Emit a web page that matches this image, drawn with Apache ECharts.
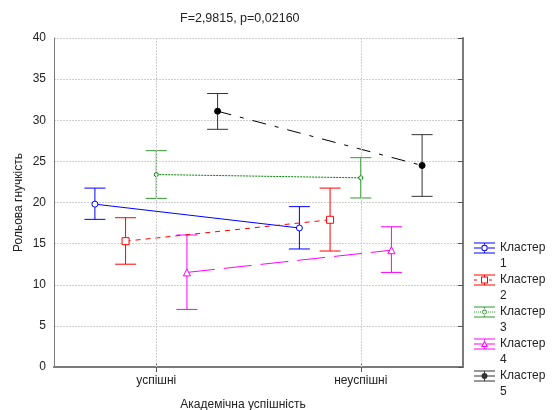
<!DOCTYPE html>
<html>
<head>
<meta charset="utf-8">
<script src="https://cdn.jsdelivr.net/npm/echarts@6/dist/echarts.min.js"></script>
<style>html,body{margin:0;padding:0;background:#fff}#c{width:552px;height:410px}</style>
</head>
<body>
<div id="c"></div>
<script>
// ---- data ----
const categories = ['успішні', 'неуспішні'];
const clusterNames = ['Кластер 1', 'Кластер 2', 'Кластер 3', 'Кластер 4', 'Кластер 5'];
const clusterOffsets = [-0.3, -0.15, 0, 0.15, 0.3];
const means1 = [19.8, 16.9];
const means2 = [15.3, 17.9];
const means3 = [23.4, 23.0];
const means4 = [11.5, 14.2];
const means5 = [31.1, 24.5];
const low1 = [17.95, 14.35];
const low2 = [12.5, 14.1];
const low3 = [20.5, 20.55];
const low4 = [7.0, 11.5];
const low5 = [28.9, 20.75];
const high1 = [21.75, 19.5];
const high2 = [18.15, 21.75];
const high3 = [26.3, 25.45];
const high4 = [16.05, 17.05];
const high5 = [33.25, 28.25];
const yTicks = [0, 5, 10, 15, 20, 25, 30, 35, 40];
const titleText = 'F=2,9815, p=0,02160';
const xName = 'Академічна успішність';
const yName = 'Рольова гнучкість';

const means = [means1, means2, means3, means4, means5];
const lows = [low1, low2, low3, low4, low5];
const highs = [high1, high2, high3, high4, high5];

// ---- styles ----
const lineColors = ['#0000ff', '#ff0000', '#008000', '#ff00ff', '#000000'];
const barColors = ['#0000ff', '#ff0000', '#2e9a2e', '#ff00ff', '#333333'];
const lineTypes = ['solid', [5, 5], [2, 1], [28, 9], [14, 9, 4, 9]];
const symbols = ['circle', 'rect', 'circle', 'triangle', 'circle'];
const symbolSizes = [6, 7, 4, 7, 6];
const symbolFill = ['#fff', '#fff', '#fff', '#fff', '#000'];

function rect(x0, y0, x1, y1) {
  return 'M' + x0 + ' ' + y0 + 'L' + x1 + ' ' + y0 + 'L' + x1 + ' ' + y1 + 'L' + x0 + ' ' + y1 + 'Z';
}
function ring(cx, cy, r1, r2) {
  return 'M' + (cx + r1) + ' ' + cy + 'A' + r1 + ' ' + r1 + ' 0 1 1 ' + (cx - r1) + ' ' + cy +
    'A' + r1 + ' ' + r1 + ' 0 1 1 ' + (cx + r1) + ' ' + cy + 'Z' +
    'M' + (cx + r2) + ' ' + cy + 'A' + r2 + ' ' + r2 + ' 0 1 0 ' + (cx - r2) + ' ' + cy +
    'A' + r2 + ' ' + r2 + ' 0 1 0 ' + (cx + r2) + ' ' + cy + 'Z';
}
function legendIcon(i) {
  let p = rect(0, 0, 21, 1) + rect(0, 10, 21, 11);
  if (i === 1) { p += rect(0, 5, 3, 6) + rect(15, 5, 18, 6); }
  else if (i === 2) { p += rect(0, 5, 1, 6) + rect(2, 5, 3, 6) + rect(4, 5, 5, 6) + rect(6, 5, 7, 6) + rect(14, 5, 15, 6) + rect(16, 5, 17, 6) + rect(18, 5, 19, 6) + rect(20, 5, 21, 6); }
  else { p += rect(0, 5, 7, 6) + rect(14, 5, 21, 6); }
  p += rect(10, 0, 11, 2) + rect(10, 9, 11, 11);
  if (i === 0) p += ring(10.5, 5.5, 3.2, 2.2);
  else if (i === 1) p += rect(7, 2, 14, 9) + 'M8 3L8 8L13 8L13 3Z';
  else if (i === 2) p += ring(10.5, 5.5, 2.4, 1.5);
  else if (i === 3) p += 'M10.5 2L14 8.5L7 8.5Z' + 'M10.5 4L8.7 7.5L12.3 7.5Z' + rect(7, 5, 8.5, 6) + rect(12.5, 5, 14, 6);
  else p += 'M13.5 5.5A3 3 0 1 1 7.5 5.5A3 3 0 1 1 13.5 5.5Z' + rect(7, 5, 14, 6) + rect(10, 2, 11, 9);
  return 'path://' + p;
}

function errRender(color) {
  return function (params, api) {
    const x = api.value(0), lo = api.value(1), hi = api.value(2);
    const a = api.coord([x, lo]);
    const b = api.coord([x, hi]);
    const hw = 10.5;
    const st = { stroke: color, lineWidth: 1 };
    return {
      type: 'group',
      children: [
        { type: 'line', shape: { x1: a[0], y1: a[1], x2: b[0], y2: b[1] }, style: st },
        { type: 'line', shape: { x1: a[0] - hw, y1: a[1], x2: a[0] + hw, y2: a[1] }, style: st },
        { type: 'line', shape: { x1: b[0] - hw, y1: b[1], x2: b[0] + hw, y2: b[1] }, style: st }
      ]
    };
  };
}

const series = [];
series.push({
  type: 'line', data: [], z: 1, silent: true,
  markLine: {
    silent: true, symbol: 'none', label: { show: false },
    lineStyle: { color: '#cfcfcf', type: [2, 1], width: 1 },
    data: categories.map((c, j) => ({ xAxis: j + 1 }))
  }
});
for (let i = 0; i < 5; i++) {
  const xs = categories.map((c, j) => j + 1 + clusterOffsets[i]);
  series.push({
    type: 'custom', name: clusterNames[i] + ' err', z: 3,
    renderItem: errRender(barColors[i]),
    encode: { x: 0, y: [1, 2] },
    data: xs.map((x, j) => [x, lows[i][j], highs[i][j]]),
    silent: true
  });
  series.push({
    type: 'line', name: clusterNames[i], z: 4,
    data: xs.map((x, j) => [x, means[i][j]]),
    lineStyle: { color: lineColors[i], width: 1, type: lineTypes[i] },
    symbol: symbols[i], symbolSize: symbolSizes[i], showAllSymbol: true,
    itemStyle: { color: symbolFill[i], borderColor: lineColors[i], borderWidth: 1 },
    emphasis: { disabled: true }
  });
}

const chart = echarts.init(document.getElementById('c'), null, { renderer: 'canvas' });
chart.setOption({
  animation: false,
  backgroundColor: '#fff',
  textStyle: { fontFamily: 'Liberation Sans, Arial, sans-serif' },
  title: {
    text: titleText, left: 180, top: 12, padding: 0,
    textStyle: { fontSize: 12.5, fontWeight: 'normal', color: '#222' }
  },
  grid: { left: 54, right: 89, top: 38, bottom: 43, containLabel: false, outerBoundsMode: 'none' },
  legend: {
    orient: 'vertical', left: 474, top: 224, padding: 0,
    itemWidth: 21, itemHeight: 11, itemGap: -16,
    selectedMode: false,
    data: clusterNames.map((n, i) => ({
      name: n, icon: legendIcon(i),
      itemStyle: { color: barColors[i], borderWidth: 0 }
    })),
    formatter: n => '\n' + n.replace(' ', '\n'),
    textStyle: { fontSize: 12, color: '#222', lineHeight: 16 }
  },
  xAxis: [{
    type: 'value', min: 0.5, max: 2.5, interval: 0.5, position: 'bottom',
    name: xName, nameLocation: 'middle', nameGap: 32, nameMoveOverlap: false,
    nameTextStyle: { fontSize: 12, color: '#222', padding: [0, 31, 0, 0] },
    axisLine: { show: true, lineStyle: { color: '#7a7a7a', width: 2 } },
    axisTick: { show: true, inside: true, length: 5, customValues: [1, 2], lineStyle: { color: '#555' } },
    axisLabel: { customValues: [1, 2], margin: 8, fontSize: 12, color: '#222', formatter: v => categories[Math.round(v) - 1] || '' },
    splitLine: { show: false }
  }, {
    type: 'value', min: 0.5, max: 2.5, interval: 0.5, position: 'top',
    axisLine: { show: true, lineStyle: { color: '#7a7a7a', width: 1 } },
    axisTick: { show: true, inside: true, length: 5, customValues: [1, 2], lineStyle: { color: '#555' } },
    axisLabel: { show: false },
    splitLine: { show: false }
  }],
  yAxis: [{
    type: 'value', min: 0, max: 40, interval: 5, position: 'left',
    name: yName, nameLocation: 'middle', nameGap: 29, nameRotate: 90, nameMoveOverlap: false,
    nameTextStyle: { fontSize: 12, color: '#222' },
    axisLine: { show: true, lineStyle: { color: '#7a7a7a', width: 1 } },
    axisTick: { show: false },
    axisLabel: { margin: 8, fontSize: 12, color: '#222', customValues: yTicks },
    splitLine: { show: true, lineStyle: { color: '#cfcfcf', type: [2, 1] } }
  }, {
    type: 'value', min: 0, max: 40, interval: 5, position: 'right',
    axisLine: { show: true, lineStyle: { color: '#7a7a7a', width: 2 } },
    axisTick: { show: true, inside: true, length: 5, lineStyle: { color: '#555' } },
    axisLabel: { show: false },
    splitLine: { show: false }
  }],
  series: series
});
</script>
</body>
</html>
